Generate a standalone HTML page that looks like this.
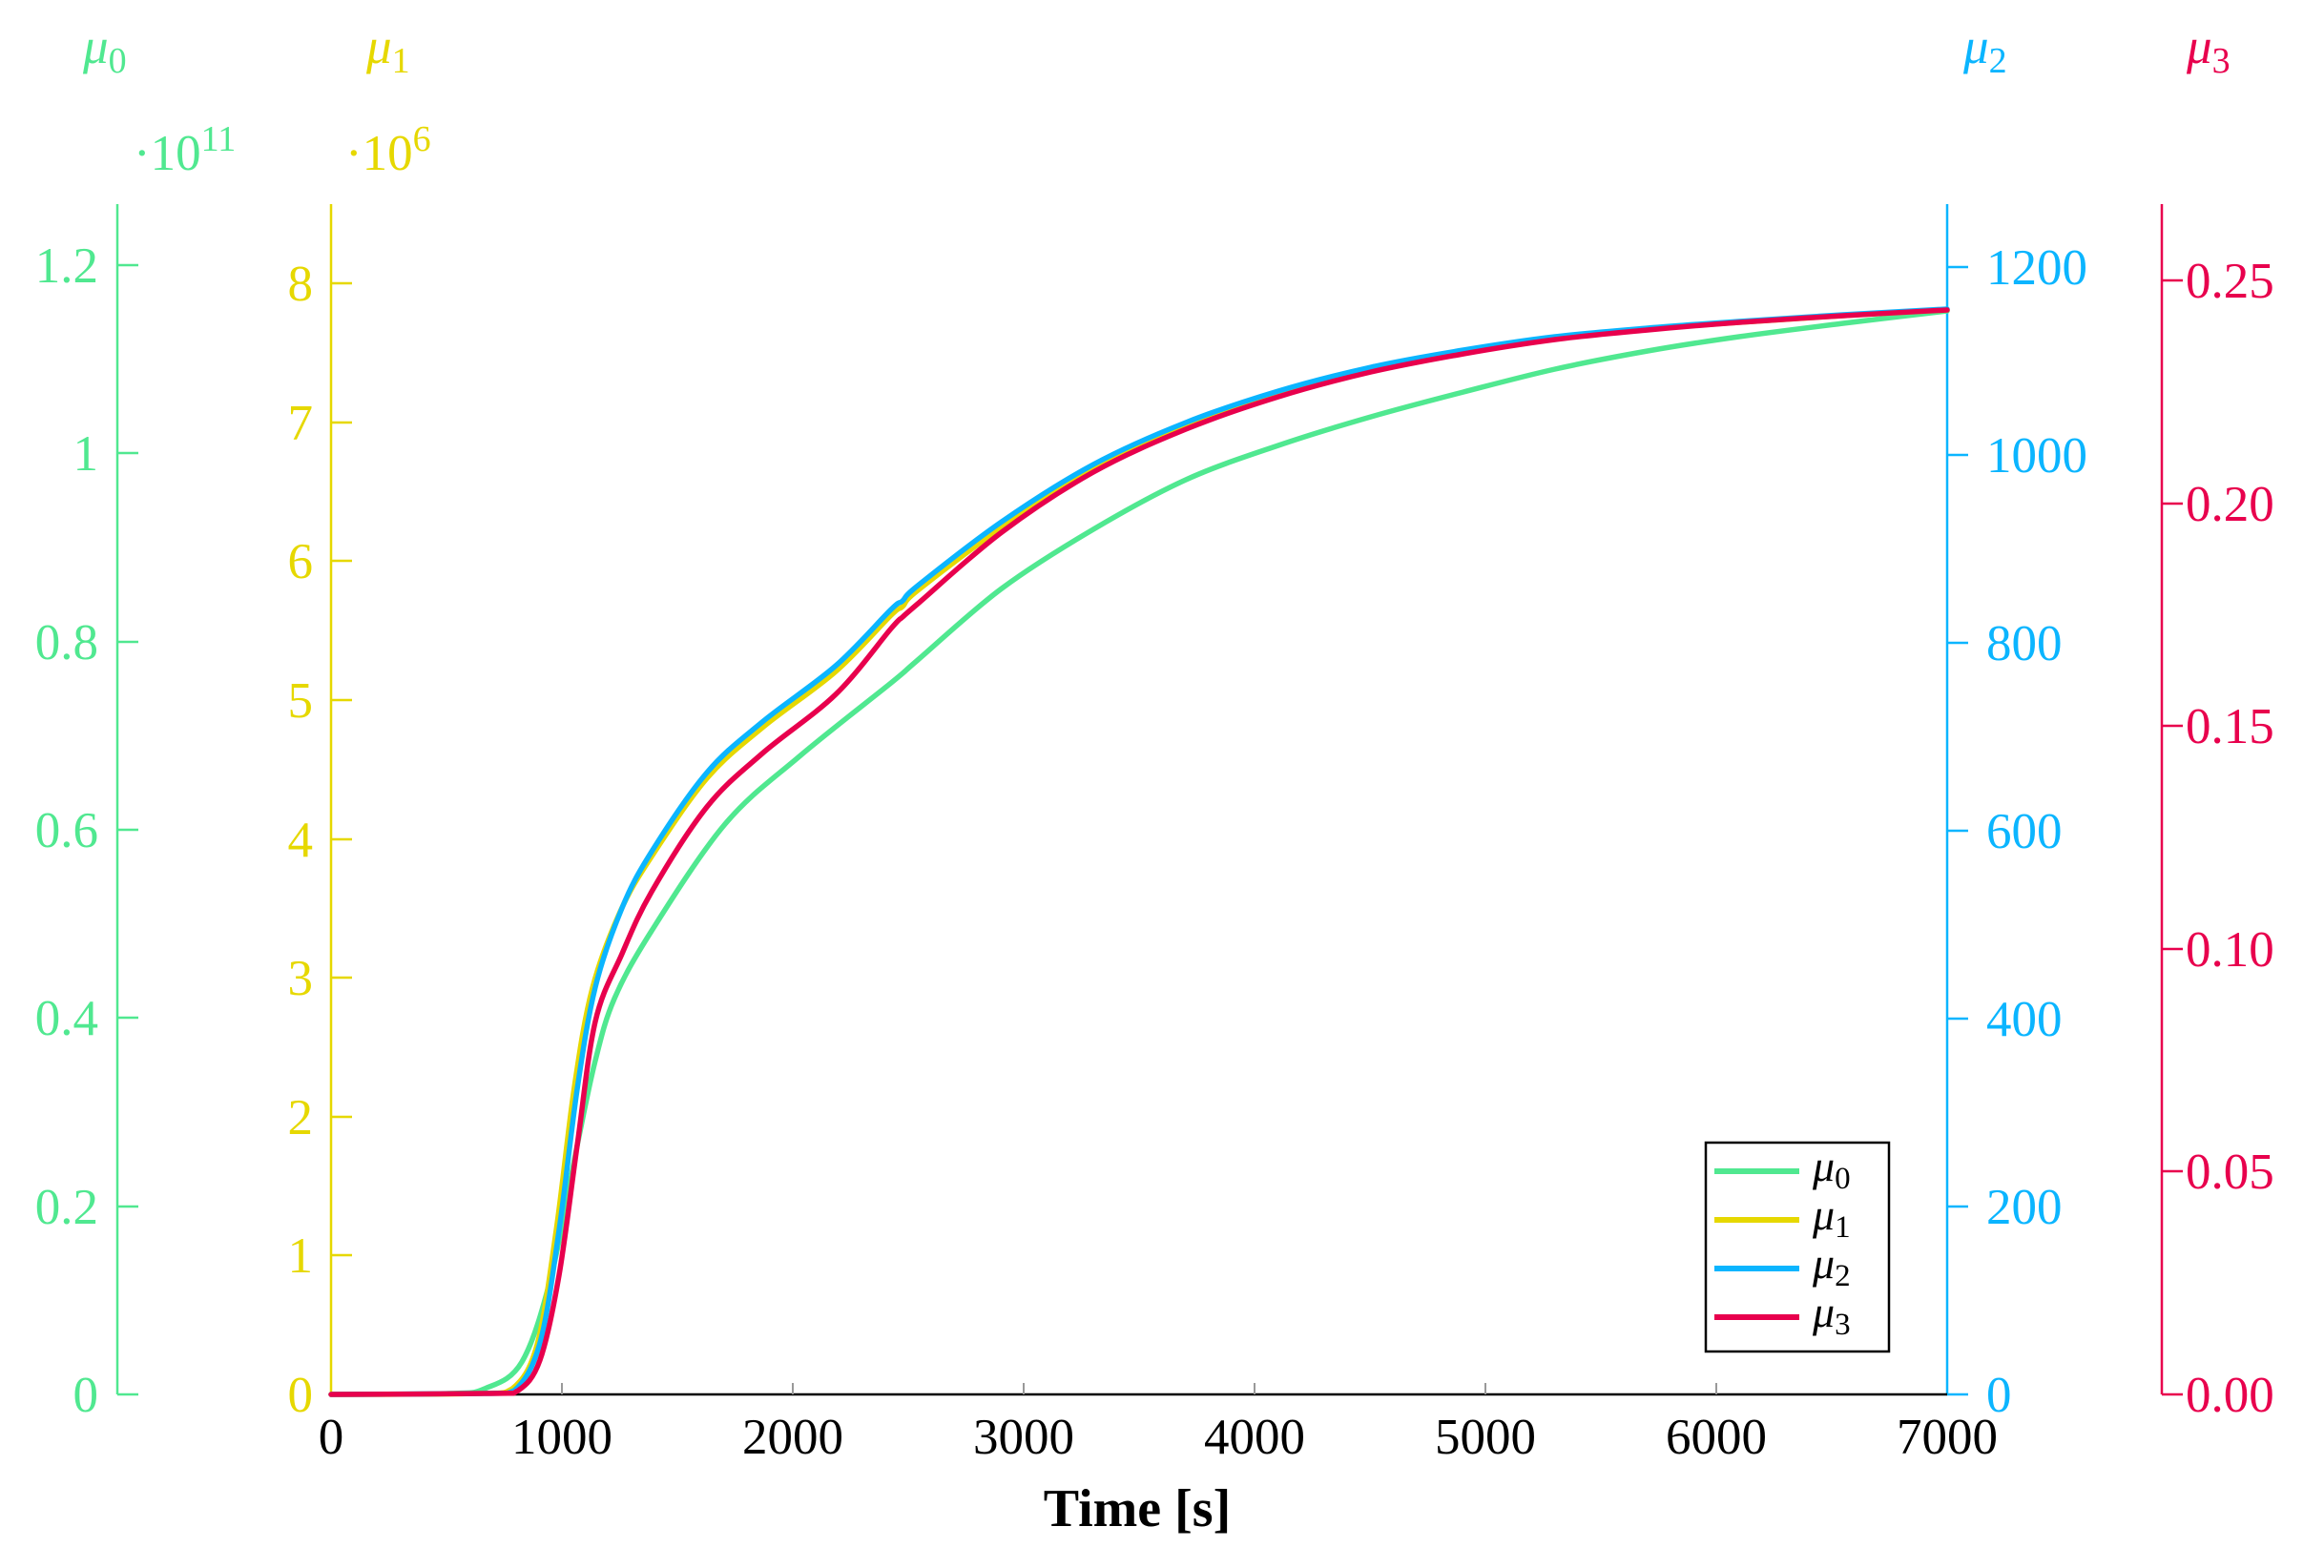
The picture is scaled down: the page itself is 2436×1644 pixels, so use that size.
<!DOCTYPE html>
<html><head><meta charset="utf-8"><style>
html,body{margin:0;padding:0;background:#fff}
svg{display:block}
text{font-family:"Liberation Serif",serif}
</style></head><body>
<svg id="s" width="2436" height="1644" viewBox="0 0 2436 1644" xmlns="http://www.w3.org/2000/svg">
<!-- mu0 axis -->
<g stroke="#50e890" stroke-width="2.5" fill="none">
<line x1="123" y1="214" x2="123" y2="1462"/>
<line x1="123" y1="1462" x2="145" y2="1462"/><line x1="123" y1="1265" x2="145" y2="1265"/>
<line x1="123" y1="1067" x2="145" y2="1067"/><line x1="123" y1="870" x2="145" y2="870"/>
<line x1="123" y1="673" x2="145" y2="673"/><line x1="123" y1="475" x2="145" y2="475"/>
<line x1="123" y1="278" x2="145" y2="278"/>
</g>
<g fill="#50e890" font-size="53" text-anchor="end">
<text x="103" y="1480">0</text><text x="103" y="1283">0.2</text><text x="103" y="1085">0.4</text>
<text x="103" y="888">0.6</text><text x="103" y="691">0.8</text><text x="103" y="493">1</text><text x="103" y="296">1.2</text>
</g>
<text x="87" y="66" fill="#50e890" font-size="53" font-style="italic">μ<tspan font-style="normal" font-size="38" dy="10">0</tspan></text>
<text x="140" y="178" fill="#50e890" font-size="53">·10<tspan font-size="38" dy="-20">11</tspan></text>
<!-- mu1 axis -->
<g stroke="#e6d800" stroke-width="2.5" fill="none">
<line x1="347" y1="214" x2="347" y2="1462"/>
<line x1="347" y1="1316" x2="369" y2="1316"/><line x1="347" y1="1171" x2="369" y2="1171"/>
<line x1="347" y1="1025" x2="369" y2="1025"/><line x1="347" y1="880" x2="369" y2="880"/>
<line x1="347" y1="734" x2="369" y2="734"/><line x1="347" y1="588" x2="369" y2="588"/>
<line x1="347" y1="443" x2="369" y2="443"/><line x1="347" y1="297" x2="369" y2="297"/>
</g>
<g fill="#e6d800" font-size="53" text-anchor="end">
<text x="328" y="1480">0</text><text x="328" y="1334">1</text><text x="328" y="1189">2</text><text x="328" y="1043">3</text>
<text x="328" y="898">4</text><text x="328" y="752">5</text><text x="328" y="606">6</text><text x="328" y="461">7</text><text x="328" y="315">8</text>
</g>
<text x="384" y="66" fill="#e6d800" font-size="53" font-style="italic">μ<tspan font-style="normal" font-size="38" dy="10">1</tspan></text>
<text x="362" y="178" fill="#e6d800" font-size="53">·10<tspan font-size="38" dy="-20">6</tspan></text>
<!-- mu2 axis -->
<g stroke="#0bb5ff" stroke-width="2.5" fill="none">
<line x1="2041" y1="214" x2="2041" y2="1462"/>
<line x1="2041" y1="1462" x2="2063" y2="1462"/><line x1="2041" y1="1265" x2="2063" y2="1265"/>
<line x1="2041" y1="1068" x2="2063" y2="1068"/><line x1="2041" y1="871" x2="2063" y2="871"/>
<line x1="2041" y1="674" x2="2063" y2="674"/><line x1="2041" y1="477" x2="2063" y2="477"/>
<line x1="2041" y1="280" x2="2063" y2="280"/>
</g>
<g fill="#0bb5ff" font-size="53">
<text x="2082" y="1480">0</text><text x="2082" y="1283">200</text><text x="2082" y="1086">400</text>
<text x="2082" y="889">600</text><text x="2082" y="692">800</text><text x="2082" y="495">1000</text><text x="2082" y="298">1200</text>
</g>
<text x="2058" y="66" fill="#0bb5ff" font-size="53" font-style="italic">μ<tspan font-style="normal" font-size="38" dy="10">2</tspan></text>
<!-- mu3 axis -->
<g stroke="#e8004d" stroke-width="2.5" fill="none">
<line x1="2266" y1="214" x2="2266" y2="1462"/>
<line x1="2266" y1="1462" x2="2288" y2="1462"/><line x1="2266" y1="1228" x2="2288" y2="1228"/>
<line x1="2266" y1="995" x2="2288" y2="995"/><line x1="2266" y1="761" x2="2288" y2="761"/>
<line x1="2266" y1="528" x2="2288" y2="528"/><line x1="2266" y1="294" x2="2288" y2="294"/>
</g>
<g fill="#e8004d" font-size="53">
<text x="2291" y="1480">0.00</text><text x="2291" y="1246">0.05</text><text x="2291" y="1013">0.10</text>
<text x="2291" y="779">0.15</text><text x="2291" y="546">0.20</text><text x="2291" y="312">0.25</text>
</g>
<text x="2292" y="66" fill="#e8004d" font-size="53" font-style="italic">μ<tspan font-style="normal" font-size="38" dy="10">3</tspan></text>
<!-- x axis -->
<line x1="347" y1="1462" x2="2041" y2="1462" stroke="#000" stroke-width="2.5"/>
<g stroke="#999" stroke-width="2">
<line x1="589" y1="1462" x2="589" y2="1450"/><line x1="831" y1="1462" x2="831" y2="1450"/>
<line x1="1073" y1="1462" x2="1073" y2="1450"/><line x1="1315" y1="1462" x2="1315" y2="1450"/>
<line x1="1557" y1="1462" x2="1557" y2="1450"/><line x1="1799" y1="1462" x2="1799" y2="1450"/>
</g>
<g fill="#000" font-size="53" text-anchor="middle">
<text x="347" y="1524">0</text><text x="589" y="1524">1000</text><text x="831" y="1524">2000</text>
<text x="1073" y="1524">3000</text><text x="1315" y="1524">4000</text><text x="1557" y="1524">5000</text>
<text x="1799" y="1524">6000</text><text x="2041" y="1524">7000</text>
</g>
<text x="1192" y="1600" fill="#000" font-size="56" font-weight="bold" text-anchor="middle">Time [s]</text>
<!-- series -->
<g fill="none" stroke-width="5.5" stroke-linejoin="round" stroke-linecap="round">
<polyline class="c" stroke="#50e890" points="347,1462 470,1461 508,1456 547,1428 578,1337 605,1201 624,1112 644,1047 683,976 760,864 838,793 934,716 962,692 1050,617 1146,555 1243,503 1340,467 1437,437 1534,411 1630,387 1727,368 1823,353 1932,339 2041,326"/>
<polyline class="c" stroke="#e6d800" points="347,1462 500,1461 537,1456 563,1410 583,1290 602,1140 621,1036 650,956 683,898 741,816 799,763 876,704 934,645 946,636 962,619 1050,553 1146,492 1243,448 1340,415 1437,389 1534,370 1630,355 1727,345 1823,338 1932,331 2041,325"/>
<polyline class="c" stroke="#0bb5ff" points="347,1462 505,1461 539,1458 566,1408 586,1290 605,1142 624,1035 652,952 683,893 741,810 799,757 876,698 934,639 946,630 962,614 1050,547 1146,487 1243,443 1340,410 1437,385 1534,367 1630,353 1727,344 1823,337 1932,330 2041,324"/>
<polyline class="c" stroke="#e8004d" points="347,1462 515,1461 543,1458 566,1426 586,1337 605,1201 624,1071 652,1000 683,935 741,846 799,790 876,728 934,659 946,647 962,633 1050,558 1146,495 1243,450 1340,416 1437,390 1534,371 1630,356 1727,346 1823,338 1932,331 2041,325"/>
</g>
<!-- legend -->
<rect x="1788" y="1198" width="192" height="219" fill="#fff" stroke="#000" stroke-width="2.5"/>
<g stroke-width="6">
<line x1="1797" y1="1228" x2="1886" y2="1228" stroke="#50e890"/>
<line x1="1797" y1="1279" x2="1886" y2="1279" stroke="#e6d800"/>
<line x1="1797" y1="1330" x2="1886" y2="1330" stroke="#0bb5ff"/>
<line x1="1797" y1="1381" x2="1886" y2="1381" stroke="#e8004d"/>
</g>
<g fill="#000" font-size="46" font-style="italic">
<text x="1900" y="1238">μ<tspan font-style="normal" font-size="33" dy="8">0</tspan></text>
<text x="1900" y="1289">μ<tspan font-style="normal" font-size="33" dy="8">1</tspan></text>
<text x="1900" y="1340">μ<tspan font-style="normal" font-size="33" dy="8">2</tspan></text>
<text x="1900" y="1391">μ<tspan font-style="normal" font-size="33" dy="8">3</tspan></text>
</g>
</svg>
<script>
(function(){
var NS="http://www.w3.org/2000/svg";
var pls=document.querySelectorAll("polyline.c");
for(var k=0;k<pls.length;k++){
 var pl=pls[k];
 var pts=pl.getAttribute("points").trim().split(/\s+/).map(function(s){var a=s.split(",");return [+a[0],+a[1]];});
 var d="M"+pts[0][0]+","+pts[0][1];
 for(var i=0;i<pts.length-1;i++){
  var p0=pts[i>0?i-1:0],p1=pts[i],p2=pts[i+1],p3=pts[i+2<pts.length?i+2:i+1];
  var c1x=p1[0]+(p2[0]-p0[0])/6,c1y=p1[1]+(p2[1]-p0[1])/6;
  var c2x=p2[0]-(p3[0]-p1[0])/6,c2y=p2[1]-(p3[1]-p1[1])/6;
  c1y=Math.min(c1y,1462);c2y=Math.min(c2y,1462);
  d+=" C"+c1x.toFixed(1)+","+c1y.toFixed(1)+" "+c2x.toFixed(1)+","+c2y.toFixed(1)+" "+p2[0]+","+p2[1];
 }
 var p=document.createElementNS(NS,"path");
 p.setAttribute("d",d);p.setAttribute("stroke",pl.getAttribute("stroke"));
 pl.parentNode.replaceChild(p,pl);
}
})();
</script>
</body></html>
